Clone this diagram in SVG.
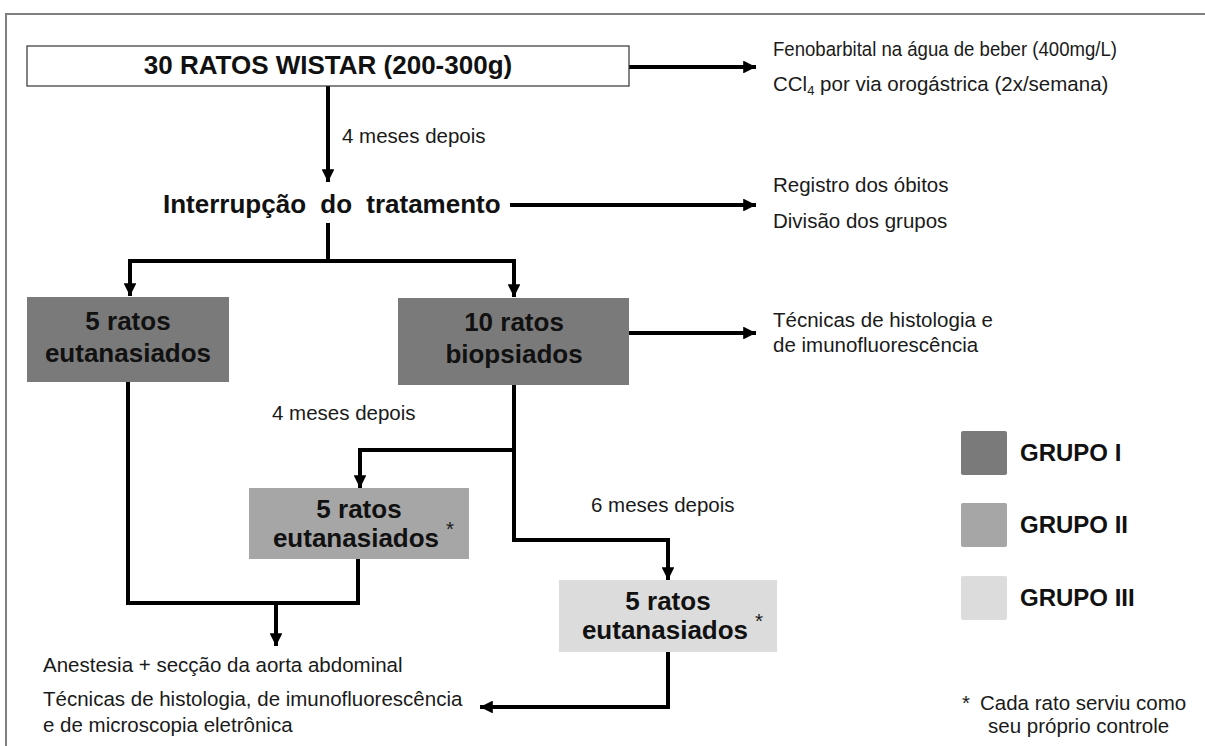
<svg xmlns="http://www.w3.org/2000/svg" width="1205" height="746" viewBox="0 0 1205 746">
<style>
.t{font-family:"Liberation Sans",Arial,sans-serif;font-size:20.5px;fill:#1a1a1a}
.b{font-family:"Liberation Sans",Arial,sans-serif;font-size:26px;font-weight:bold;fill:#111}
.lg{font-family:"Liberation Sans",Arial,sans-serif;font-size:24px;font-weight:bold;fill:#111}
.c{fill:none;stroke:#000;stroke-width:4}
.g1{fill:#7a7a7a}.g2{fill:#a6a6a6}.g3{fill:#dcdcdc}
</style>
<defs>
<marker id="ah" viewBox="0 0 10 10" refX="10" refY="5" markerWidth="3.2" markerHeight="3.2" orient="auto" markerUnits="strokeWidth">
<path d="M0,0 L10,5 L0,10 Z" fill="#000"/>
</marker>
</defs>
<rect width="1205" height="746" fill="#fff"/>
<path d="M6,746 V14 H1205" fill="none" stroke="#808080" stroke-width="2"/>

<g id="connectors">
<path class="c" d="M629,67 H756" marker-end="url(#ah)"/>
<path class="c" d="M328,86 V182" marker-end="url(#ah)"/>
<path class="c" d="M510,205 H756" marker-end="url(#ah)"/>
<path class="c" d="M328,223 V261"/>
<path class="c" d="M130,261 H514"/>
<path class="c" d="M130,259 V296" marker-end="url(#ah)"/>
<path class="c" d="M514,259 V297" marker-end="url(#ah)"/>
<path class="c" d="M629,333 H756" marker-end="url(#ah)"/>
<path class="c" d="M514,385 V540 H668 V580" marker-end="url(#ah)"/>
<path class="c" d="M514,450 H360 V488" marker-end="url(#ah)"/>
<path class="c" d="M128,382 V603 H358 V559"/>
<path class="c" d="M276,603 V646" marker-end="url(#ah)"/>
<path class="c" d="M668,652 V707 H480" marker-end="url(#ah)"/>
<text class="t" x="342" y="143">4 meses depois</text>
<text class="t" x="272" y="420">4 meses depois</text>
<text class="t" x="591" y="512">6 meses depois</text>
</g>

<g id="n-start">
<rect x="27" y="46" width="602" height="40" fill="#fff" stroke="#333" stroke-width="1.2"/>
<text class="b" x="328" y="74" text-anchor="middle" font-size="25">30 RATOS WISTAR (200-300g)</text>
</g>
<g id="n-treat">
<text class="t" x="773" y="56" textLength="344" lengthAdjust="spacingAndGlyphs">Fenobarbital na água de beber (400mg/L)</text>
<text class="t" x="773" y="91">CCl<tspan font-size="13" dy="4">4</tspan><tspan dy="-4"> por via orogástrica (2x/semana)</tspan></text>
</g>
<g id="n-interrupt">
<text class="b" x="163" y="213" style="word-spacing:7px">Interrupção do tratamento</text>
</g>
<g id="n-register">
<text class="t" x="773" y="192">Registro dos óbitos</text>
<text class="t" x="773" y="228">Divisão dos grupos</text>
</g>
<g id="n-g1">
<rect class="g1" x="27" y="297" width="202" height="85"/>
<text class="b" x="128" y="330" text-anchor="middle">5 ratos</text>
<text class="b" x="128" y="362" text-anchor="middle">eutanasiados</text>
</g>
<g id="n-biop">
<rect class="g1" x="398" y="298" width="231" height="87"/>
<text class="b" x="514" y="331" text-anchor="middle">10 ratos</text>
<text class="b" x="514" y="363" text-anchor="middle">biopsiados</text>
</g>
<g id="n-tech1">
<text class="t" x="773" y="327">Técnicas de histologia e</text>
<text class="t" x="773" y="352">de imunofluorescência</text>
</g>
<g id="n-g2">
<rect class="g2" x="249" y="488" width="220" height="71"/>
<text class="b" x="359" y="518" text-anchor="middle">5 ratos</text>
<text class="b" x="356" y="547" text-anchor="middle">eutanasiados</text>
<text class="t" x="446" y="536" font-size="12">*</text>
</g>
<g id="n-g3">
<rect class="g3" x="559" y="580" width="218" height="72"/>
<text class="b" x="668" y="610" text-anchor="middle">5 ratos</text>
<text class="b" x="665" y="639" text-anchor="middle">eutanasiados</text>
<text class="t" x="755" y="628" font-size="12">*</text>
</g>
<g id="n-final">
<text class="t" x="43" y="672">Anestesia + secção da aorta abdominal</text>
<text class="t" x="43" y="706">Técnicas de histologia, de imunofluorescência</text>
<text class="t" x="43" y="732">e de microscopia eletrônica</text>
</g>
<g id="legend">
<rect class="g1" x="961" y="431" width="46" height="44" rx="2"/>
<text class="lg" x="1020" y="461">GRUPO I</text>
<rect class="g2" x="961" y="503" width="46" height="44" rx="2"/>
<text class="lg" x="1020" y="533">GRUPO II</text>
<rect class="g3" x="961" y="576" width="46" height="44" rx="2"/>
<text class="lg" x="1020" y="606">GRUPO III</text>
<text class="t" x="962" y="710">*</text>
<text class="t" x="980" y="710">Cada rato serviu como</text>
<text class="t" x="988" y="733">seu próprio controle</text>
</g>
</svg>
